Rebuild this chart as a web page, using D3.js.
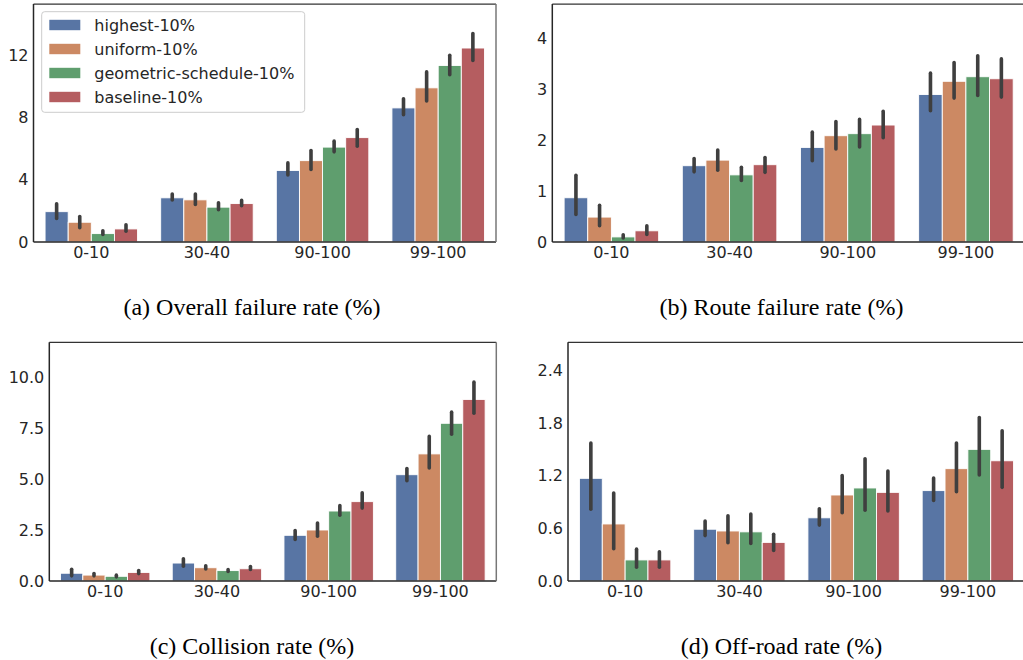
<!DOCTYPE html>
<html><head><meta charset="utf-8">
<script src="https://cdn.jsdelivr.net/npm/d3@7"></script>
<style>body{margin:0;background:#fff}svg{display:block}</style>
</head><body>
<svg id="chart" width="1023" height="660"></svg>
<script>
const categories = ["0-10", "30-40", "90-100", "99-100"];
const seriesNames = ["highest-10%", "uniform-10%", "geometric-schedule-10%", "baseline-10%"];
const seriesColors = ["#5875a4", "#cc8963", "#5f9e6e", "#b55d60"];

// (a) Overall failure rate: [series][category]
const overallMean = [[1.95, 2.84, 4.6, 8.62], [1.27, 2.71, 5.23, 9.91], [0.54, 2.24, 6.1, 11.35], [0.84, 2.47, 6.71, 12.47]];
const overallLow  = [[1.42, 2.6, 4.21, 8.08], [0.82, 2.32, 4.56, 8.97], [0.39, 1.98, 5.7, 10.66], [0.6, 2.24, 6.06, 11.57]];
const overallHigh = [[2.55, 3.18, 5.18, 9.31], [1.74, 3.18, 5.98, 11.03], [0.82, 2.62, 6.58, 12.1], [1.2, 2.77, 7.33, 13.5]];
const overallTicks = [0, 4, 8, 12];

// (b) Route failure rate
const routeMean = [[0.87, 1.5, 1.86, 2.9], [0.49, 1.61, 2.09, 3.16], [0.1, 1.32, 2.13, 3.25], [0.22, 1.52, 2.3, 3.21]];
const routeLow  = [[0.51, 1.35, 1.57, 2.55], [0.29, 1.38, 1.8, 2.8], [0.05, 1.18, 1.84, 2.85], [0.12, 1.34, 2.02, 2.82]];
const routeHigh = [[1.34, 1.67, 2.19, 3.35], [0.75, 1.84, 2.4, 3.56], [0.17, 1.5, 2.44, 3.69], [0.35, 1.69, 2.6, 3.63]];
const routeTicks = [0, 1, 2, 3, 4];

// (c) Collision rate
const collisionMean = [[0.38, 0.88, 2.24, 5.21], [0.29, 0.65, 2.5, 6.23], [0.23, 0.51, 3.43, 7.73], [0.42, 0.6, 3.89, 8.9]];
const collisionLow  = [[0.18, 0.65, 1.96, 4.84], [0.18, 0.52, 2.12, 5.47], [0.13, 0.39, 3.15, 7.12], [0.29, 0.49, 3.5, 8.15]];
const collisionHigh = [[0.65, 1.16, 2.55, 5.59], [0.44, 0.82, 2.92, 7.16], [0.36, 0.64, 3.77, 8.35], [0.59, 0.78, 4.4, 9.82]];
const collisionTicks = [0, 2.5, 5, 7.5, 10];

// (d) Off-road rate
const offroadMean = [[1.17, 0.59, 0.72, 1.03], [0.65, 0.57, 0.98, 1.28], [0.24, 0.56, 1.06, 1.5], [0.24, 0.44, 1.01, 1.37]];
const offroadLow  = [[0.8, 0.5, 0.62, 0.9], [0.35, 0.42, 0.76, 1.0], [0.14, 0.41, 0.79, 1.19], [0.14, 0.33, 0.78, 1.05]];
const offroadHigh = [[1.59, 0.7, 0.84, 1.19], [1.02, 0.76, 1.22, 1.59], [0.38, 0.78, 1.41, 1.88], [0.35, 0.55, 1.27, 1.73]];
const offroadTicks = [0, 0.6, 1.2, 1.8, 2.4];

const captions = ["(a) Overall failure rate (%)", "(b) Route failure rate (%)", "(c) Collision rate (%)", "(d) Off-road rate (%)"];

const svg = d3.select("#chart");
const tickFont = "'DejaVu Sans', sans-serif";

const panels = [
  {mean: overallMean, low: overallLow, high: overallHigh, ticks: overallTicks, fmt: d3.format("d"), yMax: 15.3,
   box: {l: 33.5, r: 496, t: 4, b: 242}, cap: {x: 252, y: 315}, legend: true},
  {mean: routeMean, low: routeLow, high: routeHigh, ticks: routeTicks, fmt: d3.format("d"), yMax: 4.68,
   box: {l: 552.3, r: 1025, t: 4, b: 242}, cap: {x: 781.5, y: 315}},
  {mean: collisionMean, low: collisionLow, high: collisionHigh, ticks: collisionTicks, fmt: d3.format(".1f"), yMax: 11.7,
   box: {l: 49.3, r: 496.3, t: 342.3, b: 581}, cap: {x: 252, y: 654}},
  {mean: offroadMean, low: offroadLow, high: offroadHigh, ticks: offroadTicks, fmt: d3.format(".1f"), yMax: 2.72,
   box: {l: 568, r: 1025, t: 342.3, b: 581}, cap: {x: 781.5, y: 654}}
];

panels.forEach((p, pi) => {
  const g = svg.append("g");
  const x = d3.scaleBand().domain(categories).range([p.box.l, p.box.r]).padding(0);
  const xs = d3.scaleBand().domain(seriesNames).range([0, x.bandwidth() * 0.8]);
  const y = d3.scaleLinear().domain([0, p.yMax]).range([p.box.b, p.box.t]);

  seriesNames.forEach((s, si) => {
    categories.forEach((c, ci) => {
      const x0 = x(c) + x.bandwidth() * 0.1 + xs(s);
      g.append("rect")
        .attr("x", x0).attr("width", xs.bandwidth())
        .attr("y", y(p.mean[si][ci])).attr("height", y(0) - y(p.mean[si][ci]))
        .attr("fill", seriesColors[si])
        .attr("stroke", "#ffffff").attr("stroke-width", 0.9);
    });
  });
  seriesNames.forEach((s, si) => {
    categories.forEach((c, ci) => {
      const cx = x(c) + x.bandwidth() * 0.1 + xs(s) + xs.bandwidth() / 2;
      g.append("line")
        .attr("x1", cx).attr("x2", cx)
        .attr("y1", y(p.low[si][ci]) - 1.5).attr("y2", y(p.high[si][ci]) + 1.5)
        .attr("stroke", "#3f3f3f").attr("stroke-width", 3.6).attr("stroke-linecap", "round");
    });
  });

  // spines
  g.append("line").attr("x1", p.box.l).attr("x2", p.box.r).attr("y1", p.box.t).attr("y2", p.box.t)
    .attr("stroke", "#333").attr("stroke-width", 1.25);
  g.append("line").attr("x1", p.box.l).attr("x2", p.box.r).attr("y1", p.box.b).attr("y2", p.box.b)
    .attr("stroke", "#262626").attr("stroke-width", 1.5);
  g.append("line").attr("x1", p.box.l).attr("x2", p.box.l).attr("y1", p.box.t).attr("y2", p.box.b)
    .attr("stroke", "#262626").attr("stroke-width", 1.5);
  g.append("line").attr("x1", p.box.r).attr("x2", p.box.r).attr("y1", p.box.t).attr("y2", p.box.b)
    .attr("stroke", "#777").attr("stroke-width", 1.5);

  // y axis
  const ya = d3.axisLeft(y).tickValues(p.ticks).tickFormat(p.fmt).tickSize(0).tickPadding(5);
  const yg = g.append("g").attr("transform", `translate(${p.box.l},0)`).call(ya);
  yg.select(".domain").remove();
  yg.selectAll("text").attr("font-family", tickFont).attr("font-size", 16).attr("fill", "#262626");

  // x axis
  const xa = d3.axisBottom(x).tickSize(0).tickPadding(5);
  const xg = g.append("g").attr("transform", `translate(0,${p.box.b})`).call(xa);
  xg.select(".domain").remove();
  xg.selectAll("text").attr("font-family", tickFont).attr("font-size", 16).attr("fill", "#262626");

  g.append("text").attr("x", p.cap.x).attr("y", p.cap.y).attr("text-anchor", "middle")
    .attr("font-family", "'Liberation Serif', 'Times New Roman', serif").attr("font-size", 24)
    .attr("fill", "#000").text(captions[pi]);

  if (p.legend) {
    const lg = g.append("g");
    lg.append("rect").attr("x", 41.7).attr("y", 11.7).attr("width", 263).attr("height", 100.6)
      .attr("rx", 3).attr("fill", "#fff").attr("fill-opacity", 0.8)
      .attr("stroke", "#cccccc").attr("stroke-width", 1);
    seriesNames.forEach((s, si) => {
      const cy = 25 + si * 24;
      lg.append("rect").attr("x", 49.3).attr("y", cy - 5.2).attr("width", 31).attr("height", 10.4)
        .attr("fill", seriesColors[si]);
      lg.append("text").attr("x", 94.3).attr("y", cy).attr("dy", "0.35em")
        .attr("font-family", tickFont).attr("font-size", 16).attr("fill", "#262626").text(s);
    });
  }
});
</script>
</body></html>
